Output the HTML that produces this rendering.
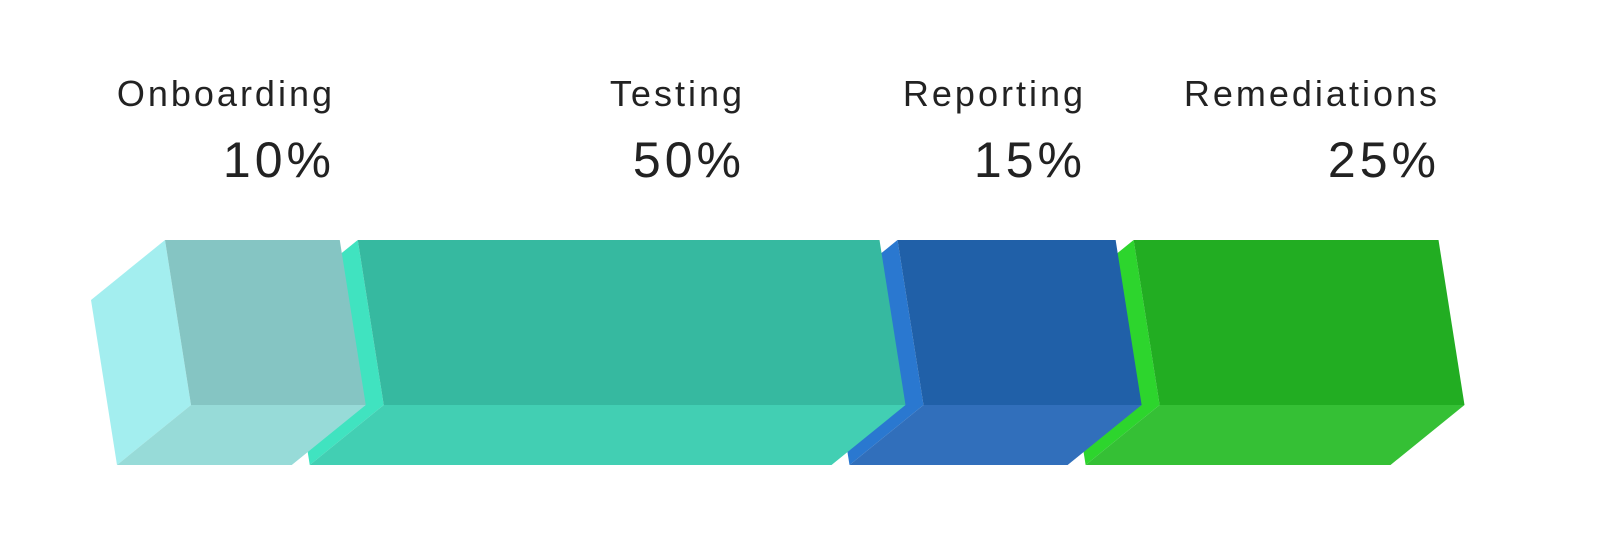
<!DOCTYPE html>
<html><head><meta charset="utf-8">
<style>
html,body{margin:0;padding:0;background:#fff;}
body{width:1611px;height:558px;overflow:hidden;position:relative;font-family:"Liberation Sans",sans-serif;color:#222;}
svg{position:absolute;left:0;top:0;}
</style></head>
<body>
<svg id="chart" width="1611" height="558"></svg>
<script>
const categories = ["Onboarding","Testing","Reporting","Remediations"];
const percents = [10,50,15,25];
const valueLabels = ["10%","50%","15%","25%"];
const frontColors = ["#85c5c3","#36b9a0","#2060a8","#22ad22"];
const sideColors  = ["#a3eeef","#40e3c0","#2a78d0","#2dd52d"];
const bottomColors= ["#97dbd8","#42cfb3","#316fbb","#35c035"];
const labelRights = [332,742,1083,1437];

const svgEl = document.getElementById('chart');
const NS = 'http://www.w3.org/2000/svg';
function widthOf(p){ return 88 + 8.675*p; }
const topY = 240, botY = 405, lean = 26, dx = -74, dy = 60, gap = 18;
function poly(pts, fill, name){
  const e = document.createElementNS(NS,'polygon');
  e.setAttribute('points', pts.map(p=>p.join(',')).join(' '));
  e.setAttribute('fill', fill);
  
  
  svgEl.appendChild(e);
}
function txt(x,y,s,size,ls,name){
  const t = document.createElementNS(NS,'text');
  t.setAttribute('x',x); t.setAttribute('y',y);
  t.setAttribute('text-anchor','end');
  t.setAttribute('font-size',size);
  t.setAttribute('letter-spacing',ls);
  t.setAttribute('fill','#222');
  t.setAttribute('font-family','"Liberation Sans", sans-serif');
  t.textContent = s;
  
  
  svgEl.appendChild(t);
}
const starts = [];
let x = 165;
categories.forEach((c,i)=>{ starts.push(x); x += widthOf(percents[i]) + gap; });
for (let i = categories.length-1; i >= 0; i--) {
  const c = categories[i];
  const w = widthOf(percents[i]);
  const x0 = starts[i];
  const tl=[x0,topY], tr=[x0+w,topY], br=[x0+w+lean,botY], bl=[x0+lean,botY];
  const key = c.toLowerCase();
  poly([tl,bl,[bl[0]+dx,bl[1]+dy],[tl[0]+dx,tl[1]+dy]], sideColors[i], 'block-side-'+key);
  poly([bl,br,[br[0]+dx,br[1]+dy],[bl[0]+dx,bl[1]+dy]], bottomColors[i], 'block-bottom-'+key);
  poly([tl,tr,br,bl], frontColors[i], 'block-front-'+key);
}
categories.forEach((c,i)=>{
  const key = c.toLowerCase();
  txt(labelRights[i]+3,106,c,36,3,'label-'+key);
  txt(labelRights[i]+3,177,valueLabels[i],50,4,'value-'+key);
});
</script>
</body></html>
